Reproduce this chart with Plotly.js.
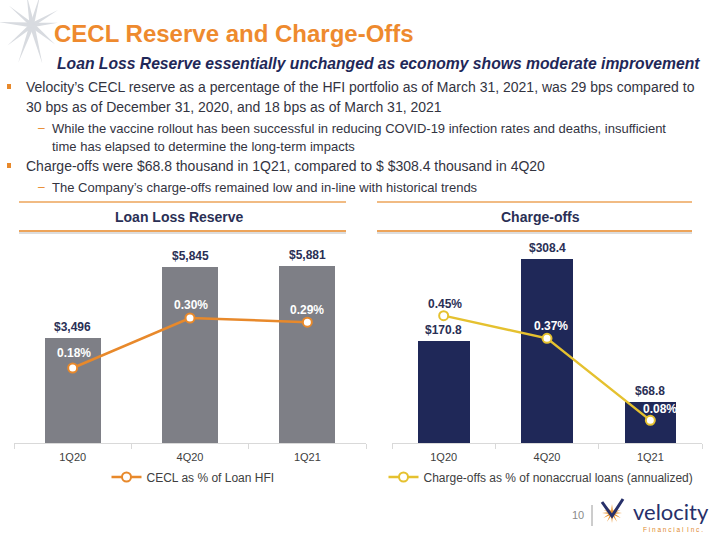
<!DOCTYPE html>
<html>
<head>
<meta charset="utf-8">
<script src="https://cdn.plot.ly/plotly-3.0.1.min.js"></script>
<style>html,body{margin:0;padding:0;background:#fff;}#chart{width:720px;height:540px;}</style>
</head>
<body>
<div id="chart"></div>
<script>
// ---- data ----
const categories = ['1Q20', '4Q20', '1Q21'];
const reserveValues = [3496, 5845, 5881];          // $ thousands
const ceclPct = [0.18, 0.30, 0.29];                // %
const chargeOffValues = [170.8, 308.4, 68.8];      // $ thousands
const chargeOffPct = [0.45, 0.37, 0.08];           // %
const ceclName = 'CECL as % of Loan HFI';
const chargeName = 'Charge-offs as % of nonaccrual loans (annualized)';

// ---- helpers ----
const W = 720, H = 540;
const px = x => x / W;
const py = y => 1 - y / H;
const FONT = 'Liberation Sans, Arial, sans-serif';
const NAVY = '#1F2858';
const ORANGE = '#E8892B';
const YELLOW = '#E5C12F';
const GRAY = '#7E7F86';
const TXT = '#33343F';

const plotTop = 240, plotBottom = 443;
const plotH = plotBottom - plotTop;

const traces = [
  {type: 'bar', x: categories, y: reserveValues, xaxis: 'x', yaxis: 'y', width: 0.48,
   marker: {color: GRAY}, showlegend: false, hoverinfo: 'skip'},
  {type: 'scatter', mode: 'lines+markers', x: categories, y: ceclPct, xaxis: 'x', yaxis: 'y2',
   name: ceclName, legend: 'legend', cliponaxis: false,
   line: {color: ORANGE, width: 2.5},
   marker: {symbol: 'circle', size: 9, color: '#ffffff', line: {color: ORANGE, width: 2}}},
  {type: 'bar', x: categories, y: chargeOffValues, xaxis: 'x2', yaxis: 'y3', width: 0.5,
   marker: {color: NAVY}, showlegend: false, hoverinfo: 'skip'},
  {type: 'scatter', mode: 'lines+markers', x: categories, y: chargeOffPct, xaxis: 'x2', yaxis: 'y4',
   name: chargeName, legend: 'legend2', cliponaxis: false,
   line: {color: YELLOW, width: 2.5},
   marker: {symbol: 'circle', size: 9, color: '#ffffff', line: {color: YELLOW, width: 2}}}
];

const annotations = [];
function txt(text, x, y, opts) {
  annotations.push(Object.assign({
    text: text, xref: 'paper', yref: 'paper', x: px(x), y: py(y),
    xanchor: 'left', yanchor: 'middle', showarrow: false,
    font: {family: FONT, size: 14, color: TXT}
  }, opts || {}));
}
// Title and text block
txt('<b>CECL Reserve and Charge-Offs</b>', 52, 33, {font: {family: FONT, size: 24, color: '#EE8A2E'}});
txt('<b><i>Loan Loss Reserve essentially unchanged as economy shows moderate improvement</i></b>', 55, 63,
    {font: {family: FONT, size: 15.7, color: NAVY}});
txt('Velocity\u2019s CECL reserve as a percentage of the HFI portfolio as of March 31, 2021, was 29 bps compared to', 24, 87);
txt('30 bps as of December 31, 2020, and 18 bps as of March 31, 2021', 24, 107);
txt('While the vaccine rollout has been successful in reducing COVID-19 infection rates and deaths, insufficient', 50, 128, {font: {family: FONT, size: 13, color: TXT}});
txt('time has elapsed to determine the long-term impacts', 50, 146, {font: {family: FONT, size: 13, color: TXT}});
txt('Charge-offs were $68.8 thousand in 1Q21, compared to $ $308.4 thousand in 4Q20', 24, 166);
txt('The Company\u2019s charge-offs remained low and in-line with historical trends', 50, 187, {font: {family: FONT, size: 13, color: TXT}});
txt('\u2013', 36, 128, {font: {family: FONT, size: 12, color: ORANGE}});
txt('\u2013', 36, 187, {font: {family: FONT, size: 12, color: ORANGE}});

// Section headers
txt('<b>Loan Loss Reserve</b>', 179, 217, {xanchor: 'center', font: {family: FONT, size: 14, color: '#2A2F55'}});
txt('<b>Charge-offs</b>', 540, 217, {xanchor: 'center', font: {family: FONT, size: 14, color: '#2A2F55'}});

// Bar value labels
reserveValues.forEach((v, i) => annotations.push({
  xref: 'x', yref: 'y', x: categories[i], y: v, yshift: 11, yanchor: 'middle', showarrow: false,
  text: '<b>$' + v.toLocaleString('en-US') + '</b>', font: {family: FONT, size: 12, color: '#2A2F55'}
}));
chargeOffValues.forEach((v, i) => annotations.push({
  xref: 'x2', yref: 'y3', x: categories[i], y: v, yshift: 11, yanchor: 'middle', showarrow: false,
  text: '<b>$' + v.toFixed(1) + '</b>', font: {family: FONT, size: 12, color: '#2A2F55'}
}));
// Percent labels
const ceclShift = [[1, 15], [1, 13], [0, 12]];
ceclPct.forEach((v, i) => annotations.push({
  xref: 'x', yref: 'y2', x: categories[i], y: v, xshift: ceclShift[i][0], yshift: ceclShift[i][1],
  yanchor: 'middle', showarrow: false,
  text: '<b>' + v.toFixed(2) + '%</b>', font: {family: FONT, size: 12, color: '#ffffff'}
}));
const chargeShift = [[1, 12], [4, 12], [10, 11]];
const chargeColor = ['#2A2F55', '#ffffff', '#ffffff'];
chargeOffPct.forEach((v, i) => annotations.push({
  xref: 'x2', yref: 'y4', x: categories[i], y: v, xshift: chargeShift[i][0], yshift: chargeShift[i][1],
  yanchor: 'middle', showarrow: false,
  text: '<b>' + v.toFixed(2) + '%</b>', font: {family: FONT, size: 12, color: chargeColor[i]}
}));

// Footer
txt('10', 578, 515, {xanchor: 'center', font: {family: FONT, size: 11, color: '#8A8A8A'}});
txt('velocity', 631, 511, {font: {family: 'Lato, DejaVu Sans, sans-serif', size: 22, color: '#27306A'}});
txt('F i n a n c i a l  I n c .', 641, 529, {font: {family: FONT, size: 6.5, color: '#E08A2E'}});

// ---- shapes ----
const shapes = [];
function line(x0, y0, x1, y1, color, width) {
  shapes.push({type: 'line', xref: 'paper', yref: 'paper', x0: px(x0), y0: py(y0), x1: px(x1), y1: py(y1),
               line: {color: color, width: width}});
}
function rect(x0, y0, x1, y1, color) {
  shapes.push({type: 'rect', xref: 'paper', yref: 'paper', x0: px(x0), y0: py(y0), x1: px(x1), y1: py(y1),
               fillcolor: color, line: {width: 0}});
}
function star(cx, cy, rays, color, layer) {
  rays.forEach(r => {
    const a = r[0] * Math.PI / 180, L = r[1], w = r[2];
    const tx = cx + L * Math.cos(a), ty = cy - L * Math.sin(a);
    const bx1 = cx + w * Math.cos(a + Math.PI / 2), by1 = cy - w * Math.sin(a + Math.PI / 2);
    const bx2 = cx - w * Math.cos(a + Math.PI / 2), by2 = cy + w * Math.sin(a + Math.PI / 2);
    shapes.push({type: 'path', xref: 'paper', yref: 'paper', layer: layer || 'below',
      path: `M${px(tx)},${py(ty)} L${px(bx1)},${py(by1)} L${px(bx2)},${py(by2)} Z`,
      fillcolor: color, line: {width: 0}});
  });
}
// top-left decorative star
star(32, 25, [[100, 30, 2.5], [75, 32, 2], [30, 30, 2], [5, 26, 2.2], [-40, 30, 2.5], [-75, 40, 2.5],
              [-110, 40, 2.5], [-140, 32, 2.2], [175, 34, 2.5], [140, 30, 2]], '#D8DBE0');
// section rules
line(19, 202, 346, 202, '#EDA45A', 1.6);
line(19, 233, 346, 233, '#DDDDDD', 2);
line(19, 231, 346, 231, '#EDA45A', 1.8);
line(377, 202, 692, 202, '#EDA45A', 1.6);
line(377, 233, 692, 233, '#DDDDDD', 2);
line(377, 231, 692, 231, '#EDA45A', 1.8);
// bullets
rect(7, 84, 11, 89, ORANGE);
rect(7, 163, 11, 168, ORANGE);
// footer
line(592, 505, 592, 526, '#9A9A9A', 1);
star(612, 513, [[90, 9, 1.2], [45, 10, 1.2], [0, 10, 1.2], [-30, 10, 1.2], [-60, 10, 1.2], [-90, 10, 1.2],
                [-120, 10, 1.2], [-150, 10, 1.2], [180, 10, 1.2], [135, 10, 1.2], [20, 9, 1], [160, 9, 1]], '#E8922E', 'above');
shapes.push({type: 'path', xref: 'paper', yref: 'paper', layer: 'above',
  path: `M${px(602)},${py(502)} L${px(612)},${py(516)} L${px(623)},${py(499)}`,
  line: {color: '#27306A', width: 3}});

const xcommon = {
  type: 'category', showline: true, linecolor: '#D9D9D9', linewidth: 1,
  ticks: 'outside', tickson: 'boundaries', ticklen: 5, tickcolor: '#D9D9D9', ticklabelstandoff: 4,
  tickfont: {family: FONT, size: 11, color: '#404040'}, showgrid: false, zeroline: false, fixedrange: true
};
const ydom = [py(plotBottom), py(plotTop)];
const layout = {
  width: W, height: H, margin: {l: 0, r: 0, t: 0, b: 0},
  paper_bgcolor: '#ffffff', plot_bgcolor: 'rgba(0,0,0,0)',
  showlegend: true, bargap: 0,
  xaxis: Object.assign({}, xcommon, {domain: [px(14), px(366)], anchor: 'y'}),
  yaxis: {domain: ydom, range: [0, plotH / 0.03015], visible: false, fixedrange: true},
  yaxis2: {overlaying: 'y', anchor: 'x', range: [0, plotH / 416.7], visible: false, fixedrange: true},
  xaxis2: Object.assign({}, xcommon, {domain: [px(392), px(702)], anchor: 'y3'}),
  yaxis3: {domain: ydom, anchor: 'x2', range: [0, plotH / 0.596], visible: false, fixedrange: true},
  yaxis4: {overlaying: 'y3', anchor: 'x2', range: [0, plotH / 283], visible: false, fixedrange: true},
  legend: {orientation: 'h', x: px(193), xanchor: 'center', y: py(477), yanchor: 'middle',
           font: {family: FONT, size: 12, color: '#404040'}, bgcolor: 'rgba(0,0,0,0)'},
  legend2: {orientation: 'h', x: px(541), xanchor: 'center', y: py(477), yanchor: 'middle',
            font: {family: FONT, size: 12, color: '#404040'}, bgcolor: 'rgba(0,0,0,0)'},
  annotations: annotations,
  shapes: shapes
};

Plotly.newPlot('chart', traces, layout, {displayModeBar: false, staticPlot: true});
</script>
</body>
</html>
